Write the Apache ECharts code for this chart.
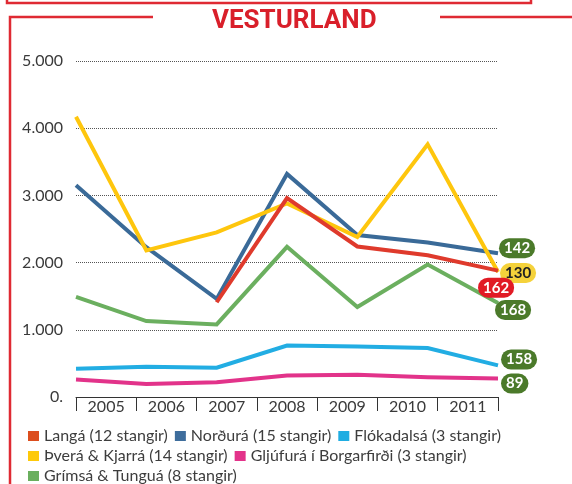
<!DOCTYPE html>
<html>
<head>
<meta charset="utf-8">
<script src="https://cdn.jsdelivr.net/npm/echarts@6/dist/echarts.min.js"></script>
<style>
  html, body { margin: 0; padding: 0; background: #fff; }
  #chart { width: 572px; height: 484px; }
</style>
</head>
<body>
<div id="chart"></div>
<script>
/* gögn */
const years = ['2005', '2006', '2007', '2008', '2009', '2010', '2011']
const yTicks = [0, 1000, 2000, 3000, 4000, 5000]

const langa = [null, null, 1410, 2960, 2240, 2110, 1880]
const nordura = [3150, 2230, 1460, 3320, 2410, 2300, 2140]
const flokadalsa = [420, 450, 435, 765, 750, 730, 470]
const thvera = [4170, 2180, 2450, 2880, 2380, 3760, 1860]
const gljufura = [260, 195, 220, 320, 330, 295, 275]
const grimsa = [1490, 1130, 1080, 2235, 1340, 1970, 1400]

const names = [
  'Langá (12 stangir)',
  'Norðurá (15 stangir)',
  'Flókadalsá (3 stangir)',
  'Þverá & Kjarrá (14 stangir)',
  'Gljúfurá í Borgarfirði (3 stangir)',
  'Grímsá & Tunguá (8 stangir)'
]
const badges = [162, 142, 158, 130, 89, 168]

const chart = echarts.init(document.getElementById('chart'))

const FONT = 'Lato, "Open Sans", sans-serif'
const GREEN = '#4b7a2a'

/* ein lína */
const makeLine = (name, data, color, z, badge, bg, textColor, offset) => ({
  name,
  type: 'line',
  xAxisIndex: 1,
  data,
  z,
  symbol: 'none',
  connectNulls: false,
  lineStyle: { color, width: 4, join: 'miter' },
  itemStyle: { color },
  emphasis: { disabled: true },
  endLabel: {
    show: true,
    formatter: () => String(badge),
    distance: 0,
    offset,
    backgroundColor: bg,
    borderRadius: 11,
    padding: [3, 5, 2, 5],
    color: textColor,
    fontFamily: FONT,
    fontWeight: 'bold',
    fontSize: 15
  }
})

const legendText = { fontFamily: FONT, fontSize: 16, color: '#3d3d3d' }
const legendBase = {
  left: 28,
  padding: 0,
  itemWidth: 11,
  itemHeight: 10,
  itemGap: 7,
  icon: 'rect',
  selectedMode: false,
  textStyle: legendText
}

const option = {
  animation: false,
  backgroundColor: '#fff',
  title: {
    text: 'VESTURLAND',
    left: 212,
    top: 8,
    padding: 0,
    textStyle: { fontFamily: 'Roboto', fontWeight: 'bold', fontSize: 26, color: '#d91f2a' }
  },
  graphic: [
    { type: 'polyline', shape: { points: [[7, 0], [7, 3], [531, 3], [531, 0]] }, style: { stroke: '#df2a33', lineWidth: 2.5, fill: null } },
    { type: 'polyline', shape: { points: [[153, 17], [10, 17], [10, 484]] }, style: { stroke: '#df2a33', lineWidth: 2.5, fill: null } },
    { type: 'line', shape: { x1: 440, y1: 17, x2: 572, y2: 17 }, style: { stroke: '#df2a33', lineWidth: 2.5 } }
  ],
  legend: [
    Object.assign({}, legendBase, { top: 428, data: [
      { name: names[0], itemStyle: { color: '#dc4e1e' } },
      { name: names[1], itemStyle: { color: '#3e6d9c' } },
      { name: names[2], itemStyle: { color: '#1fade2' } }
    ] }),
    Object.assign({}, legendBase, { top: 448, data: [
      { name: names[3], itemStyle: { color: '#fec90a' } },
      { name: names[4], itemStyle: { color: '#e3338a' } }
    ] }),
    Object.assign({}, legendBase, { top: 468, data: [
      { name: names[5], itemStyle: { color: '#6aaf5e' } }
    ] })
  ],
  grid: { left: 76, right: 74, top: 61, bottom: 87, containLabel: false },
  xAxis: [
    {
      /* ártalsreitir */
      type: 'category',
      position: 'bottom',
      data: years,
      boundaryGap: true,
      axisLine: { show: true, lineStyle: { color: '#333', width: 1 } },
      axisTick: { show: true, length: 14, inside: false, lineStyle: { color: '#333', width: 1 } },
      axisLabel: { margin: 2, fontFamily: FONT, fontSize: 16, color: '#3a3a3a' },
      splitLine: { show: false }
    },
    {
      /* gagnaás */
      type: 'category',
      position: 'top',
      data: years,
      boundaryGap: false,
      show: false
    }
  ],
  yAxis: {
    type: 'value',
    min: yTicks[0],
    max: yTicks[yTicks.length - 1],
    interval: 1000,
    axisLine: { show: false },
    axisTick: { show: false },
    axisLabel: {
      margin: 13,
      fontFamily: FONT,
      fontSize: 16,
      color: '#3a3a3a',
      formatter: v => v === 0 ? '0.' : String(v).replace(/\B(?=(\d{3})+(?!\d))/g, '.')
    },
    splitLine: { show: true, lineStyle: { type: 'dotted', color: '#555', width: 1 } }
  },
  series: [
    makeLine(names[0], langa, '#df3a2c', 6, badges[0], '#e11b25', '#fff', [-20, 17]),
    makeLine(names[1], nordura, '#3a6a98', 3, badges[1], GREEN, '#fff', [1, -5]),
    makeLine(names[2], flokadalsa, '#22ade3', 2, badges[2], GREEN, '#fff', [3, -6]),
    makeLine(names[3], thvera, '#fec60d', 5, badges[3], '#f5d23b', '#222', [2, 1]),
    makeLine(names[4], gljufura, '#e2338a', 2, badges[4], GREEN, '#fff', [3, 5]),
    makeLine(names[5], grimsa, '#6baf5f', 2, badges[5], GREEN, '#fff', [-3, 7])
  ]
}

chart.setOption(option)
</script>
</body>
</html>
